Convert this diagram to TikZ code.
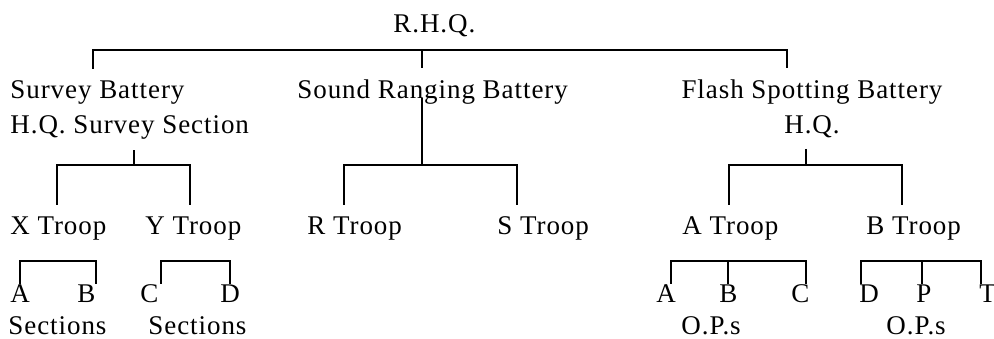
\documentclass[tikz,border=0pt]{standalone}
\usepackage{fontspec}
\setmainfont{Liberation Serif}[LetterSpace=3.5]
\usetikzlibrary{positioning, calc}

\begin{document}
\begin{tikzpicture}[
    x=0.5pt, y=-0.5pt,
    unit/.style={
        inner xsep=0pt, inner ysep=5.5pt,
        anchor=base west,
        font=\fontsize{13.5}{17.5}\selectfont
    },
    letter/.style={
        inner sep=0pt,
        anchor=base west,
        font=\fontsize{13.5}{17.5}\selectfont
    },
    tie/.style={
        line width=1pt, draw=black
    }
]
    \useasboundingbox (0,0) rectangle (994,338);

    % The units ===========================
    \node[unit] (RHQ) at (393,32) {R.H.Q.};

    \node[unit, align=left] (Survey) at (10,133) {Survey Battery\\H.Q. Survey Section};
    \node[unit] (Sound) at (297,98) {Sound Ranging Battery};
    \node[unit, align=center, anchor=base] (Flash) at (812,133) {Flash Spotting Battery\\H.Q.};

    \node[unit] (XTroop) at (10,234) {X Troop};
    \node[unit] (YTroop) at (145,234) {Y Troop};
    \node[unit] (RTroop) at (307,234) {R Troop};
    \node[unit] (STroop) at (497,234) {S Troop};
    \node[unit] (ATroop) at (682,234) {A Troop};
    \node[unit] (BTroop) at (866,234) {B Troop};

    % Sections and O.P.s ===========================
    \node[letter] (SecA) at (10,302) {A};
    \node[letter] (SecB) at (77,302) {B};
    \node[letter] (SecC) at (140,302) {C};
    \node[letter] (SecD) at (220,302) {D};
    \node[letter] (OpA) at (656,302) {A};
    \node[letter] (OpB) at (719,302) {B};
    \node[letter] (OpC) at (791,302) {C};
    \node[letter] (OpD) at (859,302) {D};
    \node[letter] (OpP) at (916,302) {P};
    \node[letter] (OpT) at (979,302) {T};

    \node[letter] (SecXL) at (8,334) {Sections};
    \node[letter] (SecYL) at (148,334) {Sections};
    \node[letter] (OpAL) at (681,334) {O.P.s};
    \node[letter] (OpBL) at (886,334) {O.P.s};

    % Junctions ====================
    \coordinate (topL) at (93,50);
    \coordinate (topM) at (422,50);
    \coordinate (topR) at (787,50);
    \coordinate (svy) at (134,165);
    \coordinate (svyL) at (57,165);
    \coordinate (svyR) at (190,165);
    \coordinate (snd) at (422,165);
    \coordinate (sndL) at (344,165);
    \coordinate (sndR) at (517,165);
    \coordinate (fls) at (806,165);
    \coordinate (flsL) at (729,165);
    \coordinate (flsR) at (902,165);

    % R.H.Q. to the batteries
    \draw[tie] (topL |- Survey.north) -- (topL) -- (topR) -- (topR |- Flash.north);
    \draw[tie] (topM) -- (topM |- Sound.north);

    % Batteries to the troops
    \draw[tie] (svy |- Survey.south) -- (svy);
    \draw[tie] (svyL |- XTroop.north) -- (svyL) -- (svyR) -- (svyR |- YTroop.north);
    \draw[tie] (snd |- Sound.base) -- (snd);
    \draw[tie] (sndL |- RTroop.north) -- (sndL) -- (sndR) -- (sndR |- STroop.north);
    \draw[tie] (fls |- Flash.south) -- (fls);
    \draw[tie] (flsL |- ATroop.north) -- (flsL) -- (flsR) -- (flsR |- BTroop.north);

    % Troops to sections and O.P.s
    \draw[tie] (SecA.north) -- ++(0,-23) -| (SecB.north east);
    \draw[tie] ([xshift=6pt]SecC.north) -- ++(0,-23) -| (SecD.north);
    \draw[tie] ([xshift=2.5pt]OpA.north) -- ++(0,-23) -| ([xshift=3pt]OpC.north);
    \draw[tie] (OpB.north) -- ++(0,-23);
    \draw[tie] ([xshift=-4pt]OpD.north) -- ++(0,-23) -| ([xshift=-3.5pt]OpT.north);
    \draw[tie] ([xshift=-1pt]OpP.north) -- ++(0,-23);

\end{tikzpicture}
\end{document}
